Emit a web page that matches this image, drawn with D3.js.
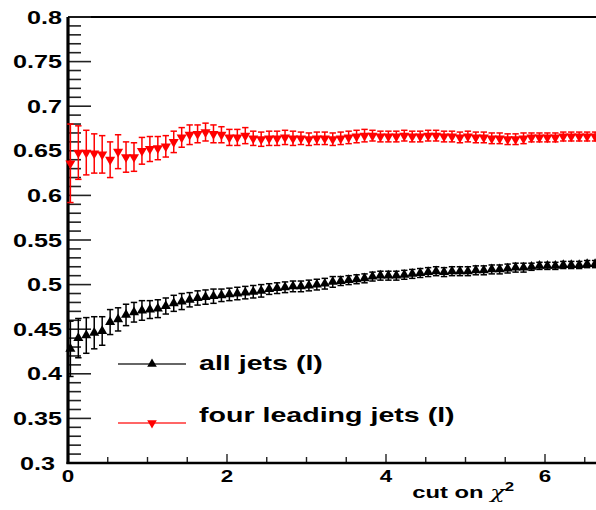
<!DOCTYPE html>
<html>
<head>
<meta charset="utf-8">
<script src="https://cdn.jsdelivr.net/npm/d3@7"></script>
<style>
	body { margin: 0; background: #ffffff; }
	text { font-family: "Liberation Sans", Arial, sans-serif; font-weight: bold; fill: #000; }
</style>
</head>
<body>
<div id="chart"></div>
<script>

// cut values (bin positions on the x axis)
var cut_values = [
	0.03, 0.13, 0.23, 0.33, 0.43, 0.53, 0.63, 0.73, 0.83, 0.93,
	1.03, 1.13, 1.23, 1.33, 1.43, 1.53, 1.63, 1.73, 1.83, 1.93,
	2.03, 2.13, 2.23, 2.33, 2.43, 2.53, 2.63, 2.73, 2.83, 2.93,
	3.03, 3.13, 3.23, 3.33, 3.43, 3.53, 3.63, 3.73, 3.83, 3.93,
	4.03, 4.13, 4.23, 4.33, 4.43, 4.53, 4.63, 4.73, 4.83, 4.93,
	5.03, 5.13, 5.23, 5.33, 5.43, 5.53, 5.63, 5.73, 5.83, 5.93,
	6.03, 6.13, 6.23, 6.33, 6.43, 6.53, 6.63
]

var all_jets = [
	0.428, 0.440, 0.443, 0.446, 0.448, 0.458, 0.461, 0.466, 0.469, 0.471,
	0.472, 0.473, 0.476, 0.479, 0.481, 0.483, 0.485, 0.486, 0.487, 0.488,
	0.489, 0.490, 0.491, 0.492, 0.493, 0.495, 0.496, 0.497, 0.498, 0.498,
	0.499, 0.500, 0.501, 0.503, 0.504, 0.505, 0.506, 0.507, 0.509, 0.510,
	0.510, 0.510, 0.511, 0.512, 0.513, 0.514, 0.515, 0.514, 0.515, 0.515,
	0.515, 0.516, 0.516, 0.517, 0.517, 0.518, 0.519, 0.519, 0.520, 0.521,
	0.521, 0.521, 0.522, 0.522, 0.522, 0.523, 0.523
]

var all_jets_err = [
	0.031, 0.022, 0.020, 0.018, 0.016, 0.014, 0.013, 0.012, 0.011, 0.011,
	0.010, 0.010, 0.009, 0.009, 0.009, 0.008, 0.008, 0.008, 0.008, 0.007,
	0.007, 0.007, 0.007, 0.007, 0.007, 0.006, 0.006, 0.006, 0.006, 0.006,
	0.006, 0.006, 0.006, 0.006, 0.005, 0.005, 0.005, 0.005, 0.005, 0.005,
	0.005, 0.005, 0.005, 0.005, 0.005, 0.005, 0.005, 0.005, 0.005, 0.005,
	0.005, 0.005, 0.005, 0.005, 0.005, 0.005, 0.005, 0.005, 0.004, 0.004,
	0.004, 0.004, 0.004, 0.004, 0.004, 0.004, 0.004
]

var four_jets = [
	0.636, 0.648, 0.648, 0.647, 0.646, 0.640, 0.649, 0.643, 0.643, 0.650,
	0.652, 0.653, 0.655, 0.660, 0.665, 0.668, 0.669, 0.671, 0.669, 0.668,
	0.665, 0.665, 0.667, 0.664, 0.663, 0.664, 0.664, 0.665, 0.664, 0.664,
	0.663, 0.664, 0.664, 0.663, 0.664, 0.665, 0.666, 0.667, 0.667, 0.666,
	0.666, 0.666, 0.667, 0.666, 0.666, 0.667, 0.667, 0.666, 0.666, 0.665,
	0.666, 0.665, 0.665, 0.664, 0.664, 0.663, 0.663, 0.664, 0.665, 0.665,
	0.665, 0.665, 0.666, 0.666, 0.666, 0.666, 0.666
]

var four_jets_err = [
	0.044, 0.030, 0.025, 0.022, 0.021, 0.020, 0.019, 0.017, 0.016, 0.015,
	0.014, 0.013, 0.012, 0.012, 0.011, 0.011, 0.010, 0.010, 0.010, 0.009,
	0.009, 0.009, 0.009, 0.008, 0.008, 0.008, 0.008, 0.008, 0.008, 0.007,
	0.007, 0.007, 0.007, 0.007, 0.007, 0.007, 0.007, 0.007, 0.006, 0.006,
	0.006, 0.006, 0.006, 0.006, 0.006, 0.006, 0.006, 0.006, 0.006, 0.006,
	0.006, 0.006, 0.006, 0.006, 0.006, 0.006, 0.006, 0.006, 0.005, 0.005,
	0.005, 0.005, 0.005, 0.005, 0.005, 0.005, 0.005
]

var y_tick_labels = [0.3, 0.35, 0.4, 0.45, 0.5, 0.55, 0.6, 0.65, 0.7, 0.75, 0.8]
var x_tick_labels = [0, 2, 4, 6]
var legend_labels = ['all jets (l)', 'four leading jets (l)']

var width = 596, height = 510
var stretch = 1.4   // the original picture is squeezed wider than it is tall

var svg = d3.select('#chart').append('svg')
	.attr('width', width)
	.attr('height', height)

// scales (x axis runs on past the right edge of the picture)
var x = d3.scaleLinear()
	.domain([0, 7])
	.range([68, 68 + 7 * 79.5])

var y = d3.scaleLinear()
	.domain([0.3, 0.8])
	.range([463, 17])

// frame: top line
svg.append('line')
	.attr('x1', x(0)).attr('x2', width)
	.attr('y1', y(0.8)).attr('y2', y(0.8))
	.attr('stroke', '#000').attr('stroke-width', 2)

// y axis ticks (drawn inside the frame)
var y_minor = d3.range(30, 81).map(function(d){ return d / 100 })
svg.append('g')
	.selectAll('line')
	.data(y_minor)
	.enter()
	.append('line')
		.attr('x1', x(0))
		.attr('x2', function(d){ return Math.round(d * 100) % 5 == 0 ? x(0) + 23 : x(0) + 13 })
		.attr('y1', function(d){ return y(d) })
		.attr('y2', function(d){ return y(d) })
		.attr('stroke', '#222')
		.attr('stroke-width', 1.6)

svg.append('g')
	.selectAll('text')
	.data(y_tick_labels)
	.enter()
	.append('text')
		.attr('text-anchor', 'end')
		.attr('transform', function(d){
			var tx = d == 0.3 ? 55 : 62
			return 'translate(' + tx + ',' + (y(d) + 6.5) + ') scale(' + stretch + ',1)'
		})
		.style('font-size', '18px')
		.text(function(d){ return d })

// x axis ticks
var x_minor = d3.range(0, 15).map(function(d){ return d * 0.5 })
svg.append('g')
	.selectAll('line')
	.data(x_minor)
	.enter()
	.append('line')
		.attr('x1', function(d){ return x(d) })
		.attr('x2', function(d){ return x(d) })
		.attr('y1', y(0.3))
		.attr('y2', function(d){ return d % 2 == 0 ? y(0.3) - 9 : y(0.3) - 6 })
		.attr('stroke', '#222')
		.attr('stroke-width', 1.4)

svg.append('g')
	.selectAll('text')
	.data(x_tick_labels)
	.enter()
	.append('text')
		.attr('text-anchor', 'middle')
		.attr('transform', function(d){
			return 'translate(' + x(d) + ',482) scale(' + stretch + ',1)'
		})
		.style('font-size', '16px')
		.text(function(d){ return d })

// axis lines
svg.append('line')
	.attr('x1', x(0)).attr('x2', x(0))
	.attr('y1', y(0.8)).attr('y2', y(0.3) + 1)
	.attr('stroke', '#000').attr('stroke-width', 3.2)
svg.append('line')
	.attr('x1', x(0) - 1.5).attr('x2', width)
	.attr('y1', y(0.3)).attr('y2', y(0.3))
	.attr('stroke', '#000').attr('stroke-width', 2.4)

// x axis title
var xtitle = svg.append('text')
	.attr('text-anchor', 'end')
	.attr('transform', 'translate(514,498) scale(' + stretch + ',1)')
	.style('font-size', '17px')
xtitle.append('tspan').text('cut on ')
xtitle.append('tspan')
	.style('font-family', '"DejaVu Serif", serif')
	.style('font-weight', 'normal')
	.style('font-style', 'italic')
	.text('χ')
xtitle.append('tspan')
	.attr('dy', -7)
	.style('font-size', '12px')
	.text('2')

// data series
var series = [
	{ values: all_jets, errs: all_jets_err, color: '#000000', symbol: d3.symbolTriangle, rot: 0 },
	{ values: four_jets, errs: four_jets_err, color: '#ff0000', symbol: d3.symbolTriangle, rot: 180 }
]

series.forEach(function(s){
	var pts = cut_values.map(function(c, i){ return { x: c, v: s.values[i], e: s.errs[i] } })
	var grp = svg.append('g')

	// error bars with caps
	var bars = grp.selectAll('.err')
		.data(pts)
		.enter()
		.append('g')
			.attr('class', 'err')
			.attr('stroke', s.color)
			.attr('stroke-width', 1.5)
	bars.append('line')
		.attr('x1', function(d){ return x(d.x) })
		.attr('x2', function(d){ return x(d.x) })
		.attr('y1', function(d){ return y(d.v - d.e) })
		.attr('y2', function(d){ return y(d.v + d.e) })
	bars.append('line')
		.attr('x1', function(d){ return x(d.x) - 3.2 })
		.attr('x2', function(d){ return x(d.x) + 3.2 })
		.attr('y1', function(d){ return y(d.v - d.e) })
		.attr('y2', function(d){ return y(d.v - d.e) })
	bars.append('line')
		.attr('x1', function(d){ return x(d.x) - 3.2 })
		.attr('x2', function(d){ return x(d.x) + 3.2 })
		.attr('y1', function(d){ return y(d.v + d.e) })
		.attr('y2', function(d){ return y(d.v + d.e) })

	// markers
	grp.selectAll('.mark')
		.data(pts)
		.enter()
		.append('path')
			.attr('class', 'mark')
			.attr('d', d3.symbol().type(s.symbol).size(44))
			.attr('transform', function(d){ return 'translate(' + x(d.x) + ',' + y(d.v) + ') rotate(' + s.rot + ')' })
			.attr('fill', s.color)
})

// legend
var legend_y = [364, 423]
var legend_base = [370, 422]
series.forEach(function(s, i){
	svg.append('line')
		.attr('x1', 118).attr('x2', 186)
		.attr('y1', legend_y[i]).attr('y2', legend_y[i])
		.attr('stroke', i == 0 ? '#333' : '#ff3333')
		.attr('stroke-width', 1.5)
	svg.append('path')
		.attr('d', d3.symbol().type(s.symbol).size(40))
		.attr('transform', 'translate(152,' + legend_y[i] + ') rotate(' + s.rot + ')')
		.attr('fill', s.color)
	svg.append('text')
		.attr('transform', 'translate(199,' + legend_base[i] + ') scale(1.43,1)')
		.style('font-size', '20px')
		.text(legend_labels[i])
})

</script>
</body>
</html>
